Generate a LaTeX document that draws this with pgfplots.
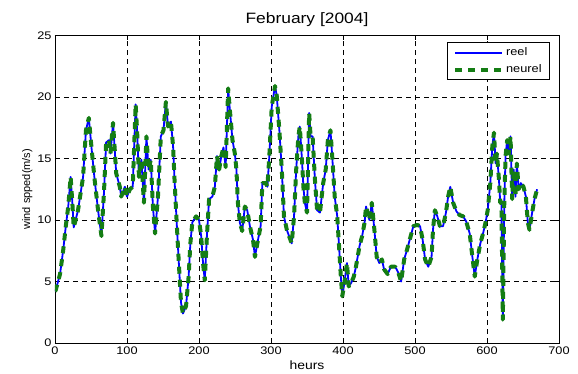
\documentclass[border=0pt]{standalone}
\usepackage{fontspec}
\setmainfont{Liberation Sans}[FakeStretch=1.16]
\newfontfamily\ylabfont{Liberation Sans}
\usepackage{pgfplots}
\usepackage{pgfplotstable}
\pgfplotsset{compat=1.18}
\definecolor{mblue}{RGB}{0,0,255}
\definecolor{mgreen}{RGB}{20,125,20}
\pgfplotstableread{
h v
0 4.2
1 4.3
7 5.6
11.5 7.6
15 9.5
18.4 11.1
21.7 13.5
24 11.5
26 9.4
32 10.8
39 13.5
43 17.3
47 18.3
51 15.7
55 13.3
60 10.7
64.5 8.7
68 12.2
71 16.3
75 16.5
77 15.4
80.6 17.9
83 15.7
85 13.8
90 12.7
92 11.9
97 12.7
100 11.9
104 12.5
108 12.7
112 19.4
114 17.3
116.6 13.5
120 14.9
123.5 11.4
127 16.8
130 14.1
133 14.9
136 11.1
139 8.9
143 11.9
147 16.8
150.7 17.3
154 19.6
157 17.6
161 18.0
164 16.0
166 13.3
169 9.8
172 6.5
175 3.3
177.7 2.4
182 3.0
185.6 5.4
188 8.1
190.7 9.8
196 10.3
200 10.0
203 8.7
205.6 6.5
208 5.1
211 8.7
214 11.7
218.6 11.9
222 12.7
225 15.2
228 14.1
231 15.2
234 15.9
237 14.3
240.5 20.7
242.8 19.0
246.5 16.5
249.8 15.4
252 14.1
254 11.4
256.7 9.8
260 9.1
263.7 11.1
267 10.8
270.7 9.5
275 8.4
277.7 7.0
282 8.4
285.6 9.5
288 13.0
293 13.0
295 12.7
297.7 15.2
301 19.2
305.6 20.9
308 20.1
311.6 17.3
315 14.1
318 10.3
322 9.2
325 8.7
328.8 8.1
332 10.3
335 14.1
338 16.8
340 17.6
342.7 15.2
345 12.7
347 11.4
350 10.6
353 18.7
355 16.8
357.8 16.8
361 13.3
364 10.8
368 10.6
372.5 13.0
376 14.1
379 16.5
382.6 17.3
385 15.2
388.5 11.9
392 10.3
394.5 7.9
397 5.4
399 3.8
402 4.9
405.5 6.5
408 4.6
411.5 4.9
415 5.4
418 6.2
423 7.9
426.6 8.7
430 9.8
432 11.1
436.7 10.0
440 11.4
443.6 9.2
446.8 7.0
450.5 6.5
454 6.8
457 6.0
462 5.6
466.5 6.2
472.5 6.2
477 5.7
480.7 5.0
485 6.8
489 7.6
492.7 8.4
497.7 9.5
503 9.6
507 9.5
510.6 8.4
514 6.8
518.4 6.2
523 7.0
525 9.2
527.6 10.8
531 10.3
534.6 9.5
539 9.5
543 10.6
546 11.9
549 12.7
553 11.4
557.6 10.7
562 10.4
566.8 10.3
571 9.9
576 8.9
579.7 7.0
583 5.4
586.6 6.8
590.8 8.1
594.5 8.9
598 9.8
601 10.8
604.6 13.0
607.4 16.0
609.7 17.1
612 14.6
613.8 15.4
616.6 13.3
618.4 11.4
620 11.4
622 1.9
624 11.4
625.8 15.2
628 16.5
630.4 15.4
632.7 16.8
635 11.7
637 14.1
639.6 11.9
641.5 14.6
644 12.5
647 13.0
650.7 12.7
654 11.9
656.7 9.8
659 9.2
662.7 10.6
666 11.7
669.6 12.5
}\wind
\begin{document}
\begin{tikzpicture}
\path[use as bounding box] (-55pt,-30pt) rectangle (523pt,343pt);
\begin{axis}[
  scale only axis, width=504pt, height=307.5pt,
  xmin=0, xmax=700, ymin=0, ymax=25,
  xtick={0,100,...,700}, ytick={0,5,...,25},
  grid=major,
  major grid style={black, dash pattern=on 5pt off 4pt, line width=0.5pt},
  tick align=inside, tick pos=both,
  major tick length=4pt,
  axis line style={line width=0.8pt},
  tick style={black, line width=0.6pt},
  /pgf/number format/assume math mode=true,
  ticklabel style={font=\fontsize{11}{13}\selectfont},
  xlabel={heurs},
  xlabel style={font=\fontsize{12}{14}\selectfont},
  ylabel={wind spped(m/s)},
  ylabel style={font=\ylabfont\fontsize{11}{13}\selectfont, yshift=-2pt},
  title={February [2004]},
  title style={font=\fontsize{15}{18}\selectfont, yshift=-1pt},
  legend style={at={(axis description cs:1,1)}, anchor=north east,
    xshift=-9pt, yshift=-6.5pt, draw=black, line width=0.8pt,
    font=\fontsize{11}{13}\selectfont, row sep=3.5pt, inner xsep=6pt, inner ysep=3.5pt},
  legend cell align=left,
  legend image code/.code={\draw[#1] (0pt,0pt) -- (47pt,0pt);},
]
\addplot[mblue, line width=1.8pt, line join=round] table[x=h,y=v] {\wind};
\addlegendentry{reel}
\addplot[mgreen, line width=4pt, dash pattern=on 7pt off 6pt, line cap=butt, line join=round] table[x=h,y=v] {\wind};
\addlegendentry{neurel}
\end{axis}
\end{tikzpicture}
\end{document}
